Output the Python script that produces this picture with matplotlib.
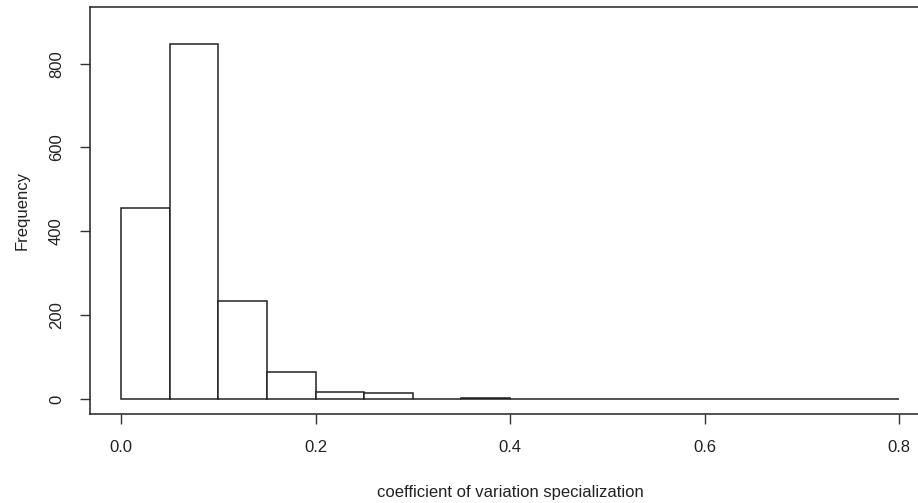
import numpy as np
import matplotlib
matplotlib.use("Agg")
import matplotlib.pyplot as plt

plt.rcParams['font.family'] = ['Liberation Sans', 'DejaVu Sans']

# histogram bins (width 0.05) and counts
bin_edges = [0.0, 0.05, 0.10, 0.15, 0.20, 0.25, 0.30, 0.35, 0.40, 0.45,
             0.50, 0.55, 0.60, 0.65, 0.70, 0.75, 0.80]
counts = [455, 848, 233, 65, 16, 13, 0, 2, 0, 0, 0, 0, 0, 0, 0, 0]
x_ticks = [0.0, 0.2, 0.4, 0.6, 0.8]
y_ticks = [0, 200, 400, 600, 800]

fig = plt.figure(figsize=(9.18, 5.03), dpi=100)
ax = fig.add_axes([0.0977, 0.177, 1.0132 - 0.0977, 0.9867 - 0.177])

edges = np.array(bin_edges)
ax.bar(edges[:-1], counts, width=np.diff(edges), align='edge',
       facecolor='white', edgecolor='#222222', linewidth=1.1)

ax.set_xlim(-0.0323, 0.832)
ax.set_ylim(-36, 936)
ax.set_xticks(x_ticks)
ax.set_xticklabels([f"{v:.1f}" for v in x_ticks])
ax.set_yticks(y_ticks)
ax.set_yticklabels([str(v) for v in y_ticks], rotation=90, va='center')

for s in ax.spines.values():
    s.set_linewidth(1.1)
    s.set_color('#222222')

ax.tick_params(axis='both', direction='out', length=7.5, width=1.0,
               color='#333333', labelsize=12, labelcolor='#222222')
ax.tick_params(axis='x', pad=11)
ax.tick_params(axis='y', pad=11)

ax.set_xlabel('coefficient of variation specialization', fontsize=12,
              color='#222222', labelpad=22)
ax.set_ylabel('Frequency', fontsize=12, color='#222222', labelpad=14)

fig.savefig('out.png', dpi=100)
